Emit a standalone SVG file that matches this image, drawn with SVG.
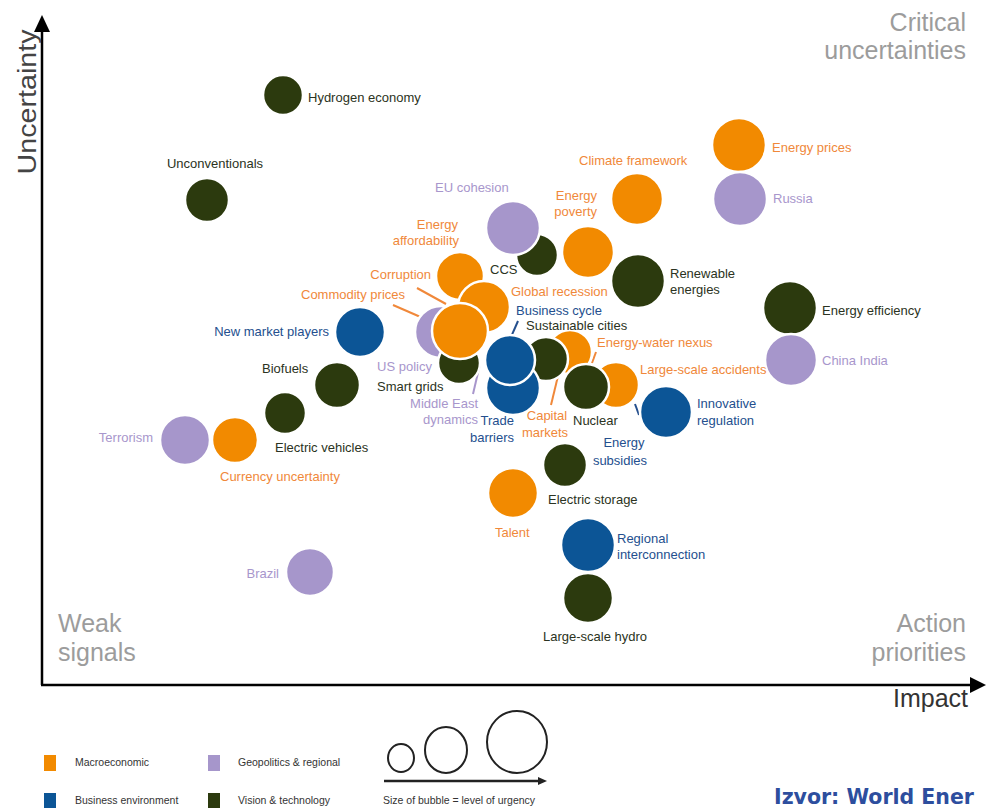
<svg xmlns="http://www.w3.org/2000/svg" width="986" height="808" viewBox="0 0 986 808">
<style>
text{font-family:"Liberation Sans",Arial,sans-serif}
.b{stroke:#fff;stroke-width:2.5}
.O{fill:#F28A00}.P{fill:#A696CB}.B{fill:#0C5596}.G{fill:#2C3A0E}
.l{font-size:13px;dominant-baseline:central}
.tO{fill:#F0883A}.tP{fill:#A896CC}.tB{fill:#244F8E}.tG{fill:#2B3322}
.e{text-anchor:end}.m{text-anchor:middle}
.q{font-size:25px;fill:#9C9C9C;dominant-baseline:central}
.ax{stroke:#000;stroke-width:2.5;fill:none}
.ld{stroke-width:2;fill:none}
.lg{font-size:10.5px;fill:#333;dominant-baseline:central}
</style>
<!-- axes -->
<g id="axes">
<line class="ax" x1="42" y1="685" x2="42" y2="30"/>
<polygon points="42,15 34,32 50,32" fill="#000"/>
<line class="ax" x1="41" y1="685" x2="974" y2="685"/>
<polygon points="986,685 970,677 970,693" fill="#000"/>
<text x="0" y="0" transform="translate(36,102) rotate(-90)" font-size="26" fill="#444" text-anchor="middle" textLength="145" lengthAdjust="spacingAndGlyphs">Uncertainty</text>
<text x="968" y="707" font-size="25" fill="#333" text-anchor="end">Impact</text>
<text class="q e" x="966" y="22">Critical</text>
<text class="q e" x="966" y="50">uncertainties</text>
<text class="q" x="58" y="623">Weak</text>
<text class="q" x="58" y="652">signals</text>
<text class="q e" x="966" y="623">Action</text>
<text class="q e" x="966" y="652">priorities</text>
</g>
<!-- connectors -->
<g id="connectors">
<line class="ld" stroke="#F0883A" x1="417" y1="288" x2="446" y2="304"/>
<line class="ld" stroke="#F0883A" x1="393" y1="305" x2="432" y2="322"/>
<line class="ld" stroke="#244F8E" x1="518" y1="321" x2="507" y2="346"/>
<line class="ld" stroke="#A896CC" x1="480" y1="364" x2="473" y2="394"/>
<line class="ld" stroke="#F0883A" x1="558" y1="376" x2="551" y2="405"/>
<line class="ld" stroke="#F0883A" x1="596" y1="352" x2="592" y2="363"/>
<line class="ld" stroke="#244F8E" x1="635" y1="404" x2="639" y2="415"/>
</g>
<g id="hydrogen-economy"><circle class="b G" cx="283" cy="95" r="20"/><text class="l tG" x="308" y="97">Hydrogen economy</text></g>
<g id="unconventionals"><circle class="b G" cx="207" cy="200" r="22"/><text class="l tG m" x="215" y="163">Unconventionals</text></g>
<g id="energy-prices"><circle class="b O" cx="739" cy="145" r="27"/><text class="l tO" x="772" y="147">Energy prices</text></g>
<g id="russia"><circle class="b P" cx="740" cy="199" r="27"/><text class="l tP" x="773" y="198">Russia</text></g>
<g id="climate-framework"><circle class="b O" cx="637" cy="199" r="26"/><text class="l tO" x="579" y="160">Climate framework</text></g>
<g id="ccs"><circle class="b G" cx="537" cy="255" r="21"/><text class="l tG" x="490" y="269">CCS</text></g>
<g id="eu-cohesion"><circle class="b P" cx="513" cy="228" r="27"/><text class="l tP" x="435" y="187">EU cohesion</text></g>
<g id="energy-poverty"><circle class="b O" cx="588" cy="252" r="26"/><text class="l tO e" x="597" y="195">Energy</text><text class="l tO e" x="597" y="211">poverty</text></g>
<g id="renewable-energies"><circle class="b G" cx="638" cy="281" r="27"/><text class="l tG" x="670" y="273">Renewable</text><text class="l tG" x="670" y="289">energies</text></g>
<g id="energy-efficiency"><circle class="b G" cx="790" cy="308" r="27"/><text class="l tG" x="822" y="310">Energy efficiency</text></g>
<g id="china-india"><circle class="b P" cx="791" cy="360" r="26"/><text class="l tP" x="822" y="360">China India</text></g>
<g id="energy-affordability"><circle class="b O" cx="460" cy="276" r="24"/><text class="l tO e" x="458" y="224">Energy</text><text class="l tO e" x="459" y="240">affordability</text></g>
<g id="corruption"><text class="l tO e" x="431" y="274">Corruption</text></g>
<g id="global-recession"><circle class="b O" cx="484" cy="307" r="26"/><text class="l tO" x="511" y="291">Global recession</text></g>
<g id="us-policy"><circle class="b P" cx="441" cy="332" r="26"/><text class="l tP" x="377" y="366">US policy</text></g>
<g id="smart-grids"><circle class="b G" cx="459" cy="363" r="21"/><text class="l tG" x="377" y="386">Smart grids</text></g>
<g id="commodity-prices"><circle class="b O" cx="460" cy="331" r="28"/><text class="l tO" x="301" y="294">Commodity prices</text></g>
<g id="new-market-players"><circle class="b B" cx="360" cy="332" r="25"/><text class="l tB e" x="329" y="331">New market players</text></g>
<g id="biofuels"><circle class="b G" cx="337" cy="385" r="23"/><text class="l tG" x="262" y="368">Biofuels</text></g>
<g id="electric-vehicles"><circle class="b G" cx="285" cy="413" r="21"/><text class="l tG" x="275" y="447">Electric vehicles</text></g>
<g id="terrorism"><circle class="b P" cx="185" cy="440" r="25"/><text class="l tP e" x="153" y="437">Terrorism</text></g>
<g id="currency-uncertainty"><circle class="b O" cx="235" cy="440" r="23"/><text class="l tO" x="220" y="476">Currency uncertainty</text></g>
<g id="energy-water-nexus"><circle class="b O" cx="570" cy="352" r="22"/><text class="l tO" x="597" y="342">Energy-water nexus</text></g>
<g id="sustainable-cities"><circle class="b G" cx="546" cy="359" r="22"/><text class="l tG" x="526" y="325">Sustainable cities</text></g>
<g id="trade-barriers"><circle class="b B" cx="513" cy="388" r="27"/><text class="l tB e" x="514" y="420">Trade</text><text class="l tB e" x="514" y="437">barriers</text></g>
<g id="business-cycle"><circle class="b B" cx="510" cy="360" r="25"/><text class="l tB" x="516" y="310">Business cycle</text></g>
<g id="middle-east-dynamics"><text class="l tP e" x="478" y="403">Middle East</text><text class="l tP e" x="478" y="419">dynamics</text></g>
<g id="capital-markets"><text class="l tO m" x="547" y="415">Capital</text><text class="l tO m" x="545" y="432">markets</text></g>
<g id="large-scale-accidents"><circle class="b O" cx="616" cy="385" r="23"/><text class="l tO" x="640" y="369">Large-scale accidents</text></g>
<g id="nuclear"><circle class="b G" cx="586" cy="387" r="23"/><text class="l tG" x="573" y="420">Nuclear</text></g>
<g id="innovative-regulation"><circle class="b B" cx="666" cy="412" r="26"/><text class="l tB" x="697" y="403">Innovative</text><text class="l tB" x="697" y="420">regulation</text></g>
<g id="energy-subsidies"><text class="l tB m" x="624" y="442">Energy</text><text class="l tB m" x="620" y="460">subsidies</text></g>
<g id="electric-storage"><circle class="b G" cx="565" cy="465" r="22"/><text class="l tG" x="548" y="499">Electric storage</text></g>
<g id="talent"><circle class="b O" cx="513" cy="493" r="25"/><text class="l tO" x="495" y="532">Talent</text></g>
<g id="regional-interconnection"><circle class="b B" cx="588" cy="545" r="27"/><text class="l tB" x="617" y="538">Regional</text><text class="l tB" x="617" y="554">interconnection</text></g>
<g id="large-scale-hydro"><circle class="b G" cx="588" cy="598" r="25"/><text class="l tG" x="543" y="636">Large-scale hydro</text></g>
<g id="brazil"><circle class="b P" cx="310" cy="572" r="24"/><text class="l tP e" x="279" y="573">Brazil</text></g>
<!-- legend -->
<g id="legend">
<rect class="O" x="44" y="755" width="12" height="16"/><text class="lg" x="75" y="762">Macroeconomic</text>
<rect class="P" x="208" y="755" width="12" height="16"/><text class="lg" x="238" y="762">Geopolitics &amp; regional</text>
<rect class="B" x="44" y="793" width="12" height="15"/><text class="lg" x="75" y="800">Business environment</text>
<rect class="G" x="208" y="793" width="12" height="15"/><text class="lg" x="238" y="800">Vision &amp; technology</text>
<ellipse cx="401" cy="758" rx="13" ry="14" fill="none" stroke="#222" stroke-width="2"/>
<ellipse cx="446" cy="750" rx="21" ry="23" fill="none" stroke="#222" stroke-width="2"/>
<ellipse cx="517" cy="742" rx="30" ry="31" fill="none" stroke="#222" stroke-width="2"/>
<line x1="384" y1="781" x2="540" y2="781" stroke="#222" stroke-width="2.5"/>
<polygon points="547,781 538,777 538,785" fill="#222"/>
<text class="lg" x="383" y="800" font-size="10">Size of bubble = level of urgency</text>
</g>
<text x="774" y="804" font-weight="bold" font-size="20.5" fill="#2D4E9E" style="font-family:'DejaVu Sans',sans-serif">Izvor: World Ener</text>
</svg>
